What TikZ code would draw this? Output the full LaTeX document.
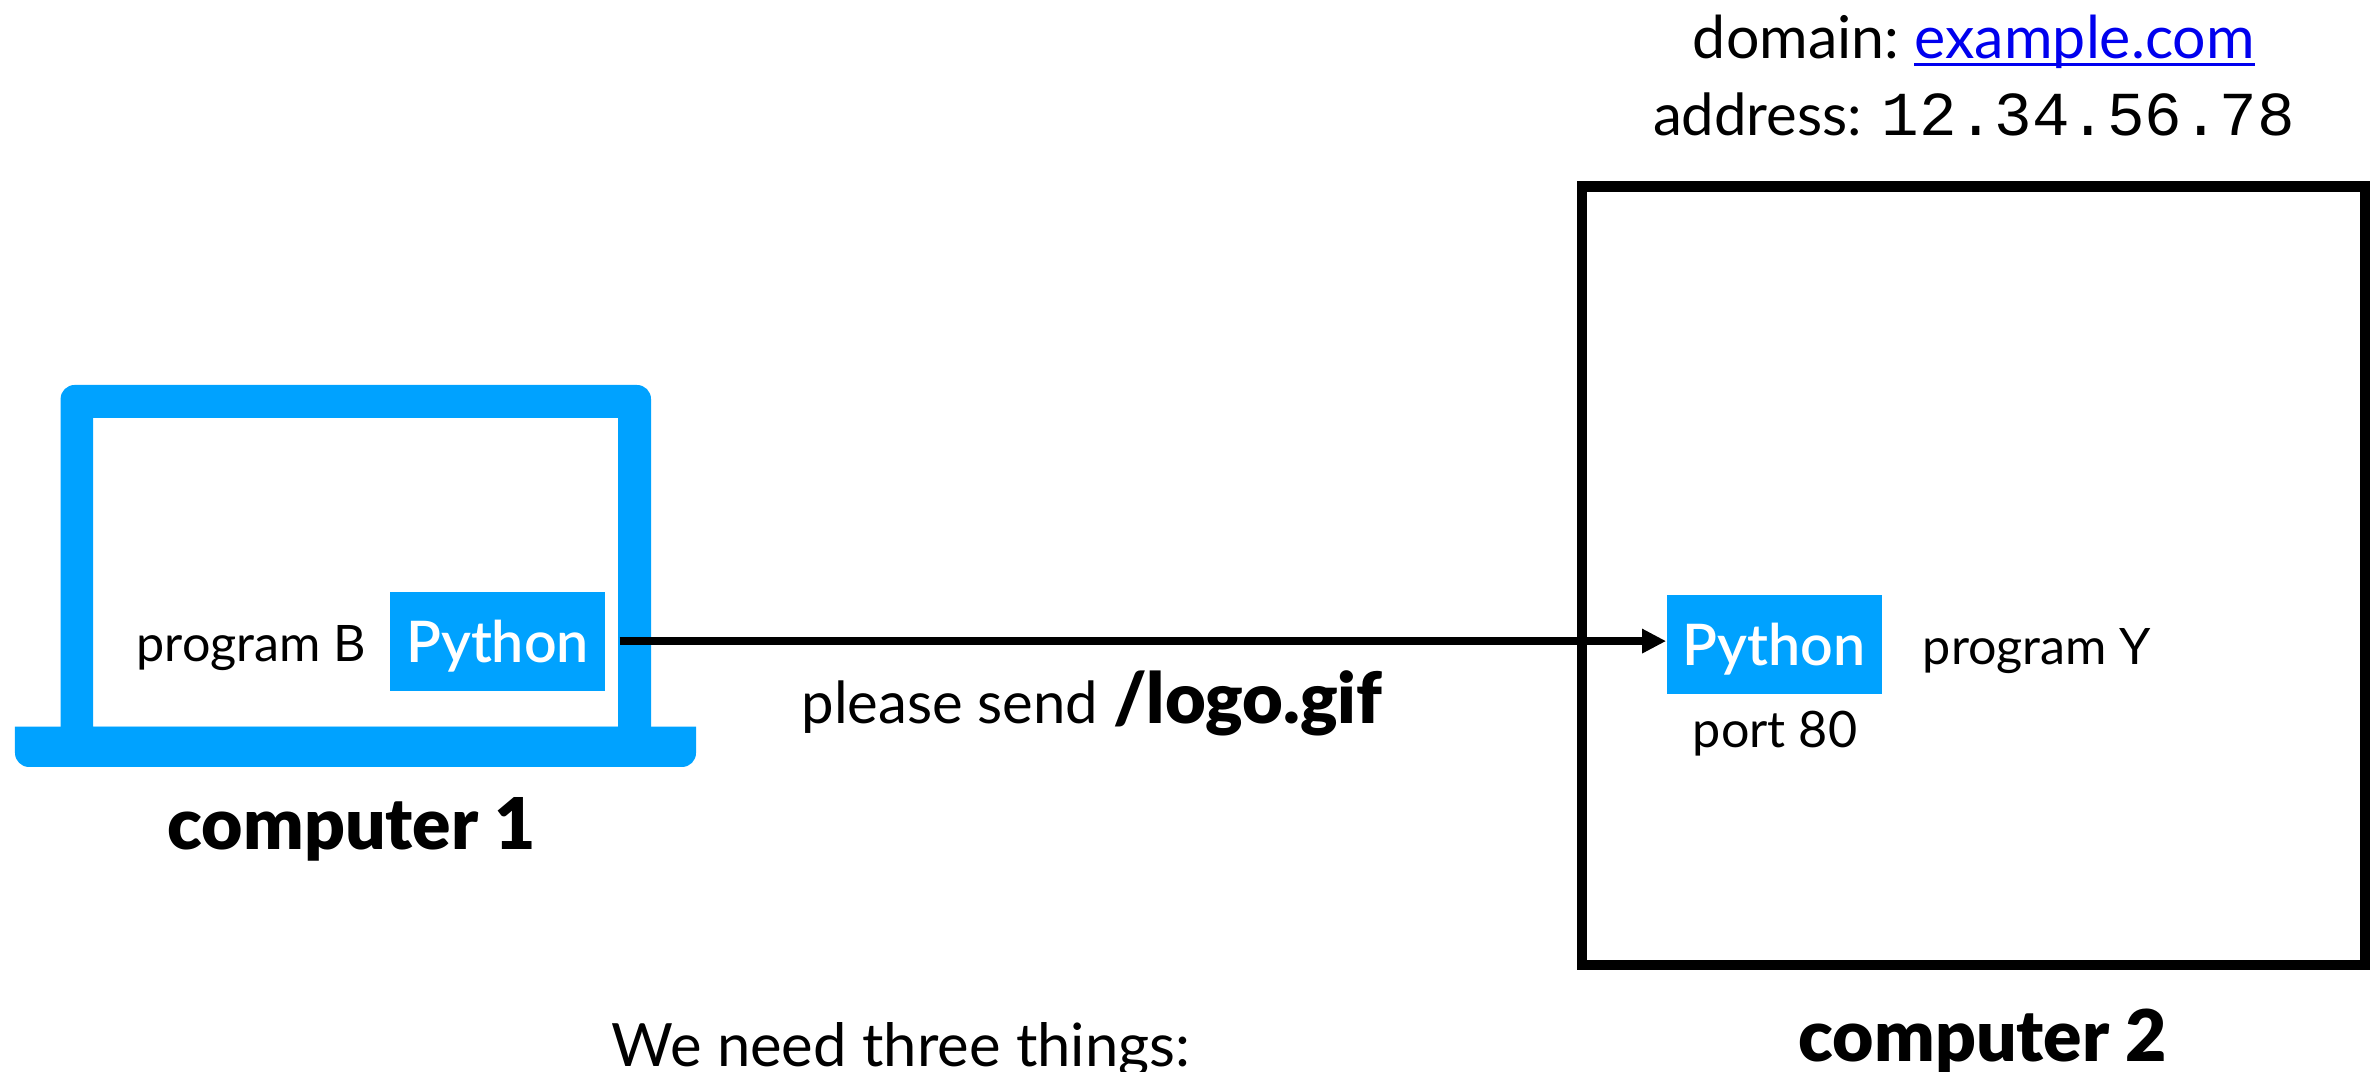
\documentclass[tikz,border=0pt]{standalone}
\usepackage{fontspec}
\setmainfont{Lato}
\newfontfamily\addrfont{Liberation Mono}
\newfontfamily\heavyfont{Lato Black}
\newfontfamily\pyfont{Lato Semibold}
\usetikzlibrary{arrows.meta}
\definecolor{pyblue}{HTML}{00A2FF}
\definecolor{linkblue}{HTML}{0000EE}
\tikzset{
  bigtext/.style={font=\fontsize{16.5}{20}\selectfont,inner sep=0pt,anchor=base},
  smalltext/.style={font=\fontsize{14.3}{16}\selectfont,inner sep=0pt,anchor=base},
  boldtext/.style={font=\fontsize{20.3}{22}\selectfont\heavyfont,inner sep=0pt,anchor=base},
  pybox/.style={fill=pyblue,text=white,font=\fontsize{16.3}{20}\selectfont\pyfont,
    minimum width=2.15cm,minimum height=0.99cm,inner sep=0pt,text depth=0pt},
  msgarrow/.style={-{Triangle[length=2.4mm,width=2.3mm]},line width=0.8mm,black},
}
\begin{document}
\begin{tikzpicture}
    \clip (0,0) rectangle (23.71,10.72);
    %LAPTOP
    \fill[pyblue,even odd rule]
      (0.606,3.45) -- (0.606,6.72) [rounded corners=0.14cm] -- (0.606,6.87) -- (6.51,6.87) [sharp corners] -- (6.51,3.45) -- cycle
      (0.932,3.45) rectangle (6.18,6.542);
    \fill[pyblue] (0.15,3.453) [rounded corners=0.14cm] -- (0.15,3.05) -- (6.96,3.05) [sharp corners] -- (6.96,3.453) -- cycle;
    %SERVER
    \node[draw=black,line width=1.05mm,minimum width=7.83cm,minimum height=7.785cm,inner sep=0pt] (server) at (19.735,4.9625) {};
    %BOXES
    \node[pybox] (pyB) at (4.975,4.309) {Python};
    \node[pybox] (pyY) at (17.743,4.279) {Python};
    \draw[msgarrow,shorten <=0.14cm] (pyB.east) -- (pyB.east -| pyY.west);
    %LABELS
    \node[smalltext] (progB) at (2.515,4.10) {program B};
    \node[smalltext] (progY) at (20.37,4.07) {program Y};
    \node[smalltext] (port) at (17.75,3.24) {port 80};
    \node[bigtext] (send) at (10.92,3.48) {please send {\fontsize{20}{22}\selectfont\heavyfont /logo.gif}};
    \node[boldtext] (comp1) at (3.52,2.22) {computer 1};
    \node[boldtext] (comp2) at (19.83,0.10) {computer 2};
    \node[bigtext,font=\fontsize{17}{20}\selectfont] (need) at (9.01,0.05) {We need three things:};
    \node[bigtext,font=\fontsize{16.8}{20}\selectfont,anchor=base east] (domain) at (19.0,10.13) {domain:};
    \node[bigtext,font=\fontsize{16.8}{20}\selectfont,anchor=base west,text=linkblue] (link) at (19.14,10.13) {example.com};
    \draw[linkblue,line width=0.3mm] ([yshift=-0.06cm]link.base west) -- ([yshift=-0.06cm]link.base east);
    \node[bigtext] (addr) at (19.74,9.36) {address: {\fontsize{17.8}{20}\selectfont\addrfont 12.34.56.78}};
\end{tikzpicture}
\end{document}
